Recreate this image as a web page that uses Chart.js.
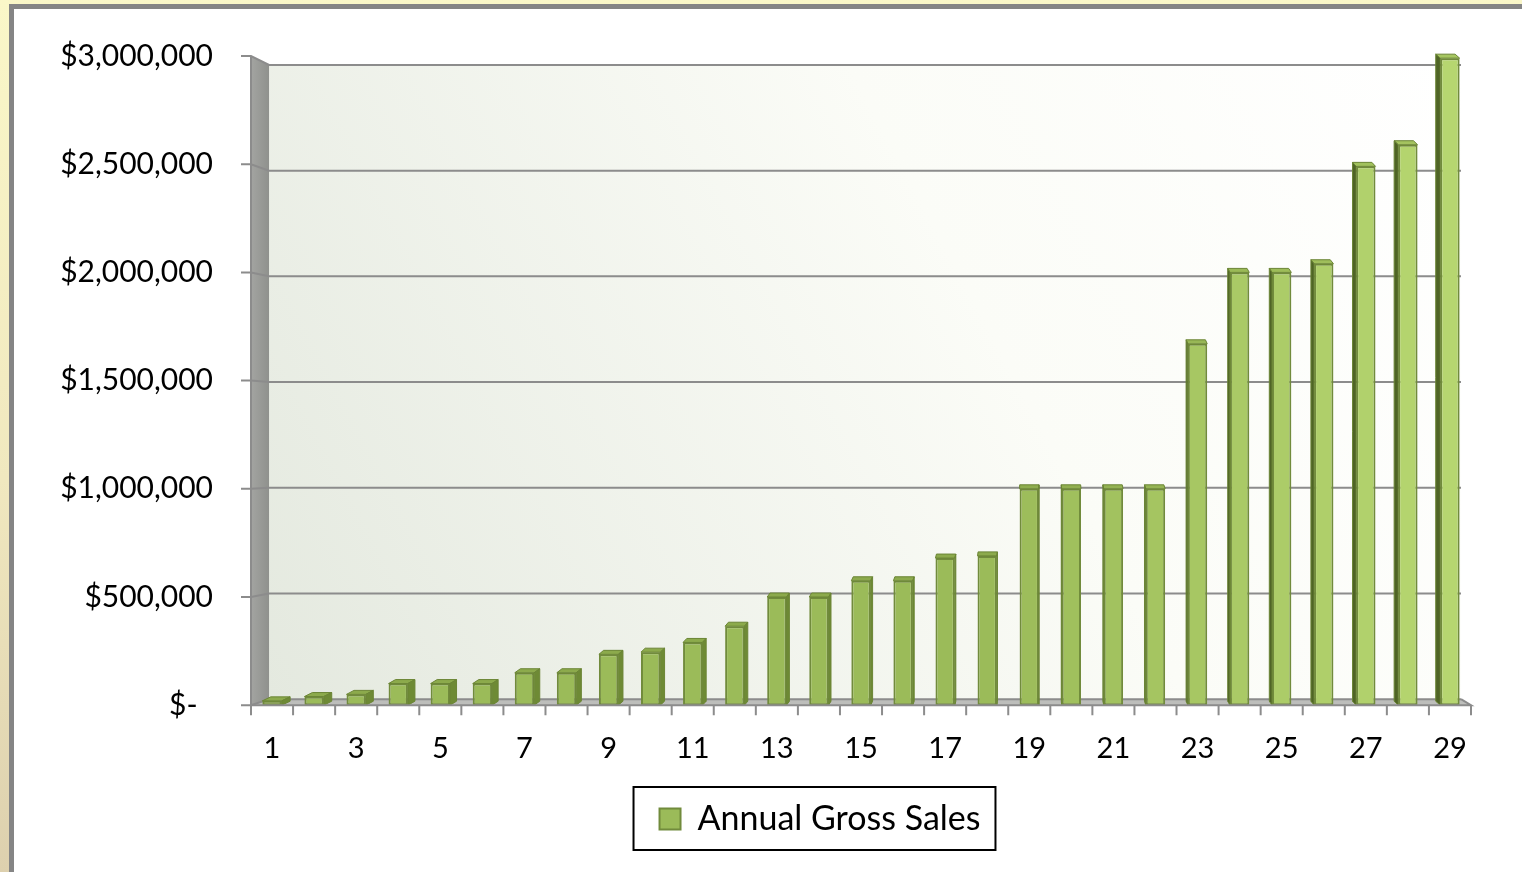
<!DOCTYPE html>
<html>
<head>
<meta charset="utf-8">
<title>Annual Gross Sales</title>
<script src="https://cdn.jsdelivr.net/npm/chart.js@4.4.1/dist/chart.umd.min.js"></script>
<style>
  html, body { margin: 0; padding: 0; }
  body {
    width: 1522px; height: 872px; overflow: hidden; position: relative;
    background: linear-gradient(180deg, #faf7c8 0%, #f0e8bf 55%, #ddd0ae 100%);
  }
  #frame {
    position: absolute; left: 9px; top: 4px; width: 1560px; height: 900px;
    background: #fff; border-left: 5px solid #858585; border-top: 5px solid #858585;
  }
  #salesChart { position: absolute; left: 0; top: 0; }
</style>
</head>
<body>
<div id="frame"></div>
<canvas id="salesChart" width="1522" height="872"></canvas>
<script>
// --- data ---
const years = ['1', '2', '3', '4', '5', '6', '7', '8', '9', '10', '11', '12', '13', '14', '15',
               '16', '17', '18', '19', '20', '21', '22', '23', '24', '25', '26', '27', '28', '29'];
const annualGrossSales = [20000, 40000, 50000, 100000, 100000, 100000, 150000, 150000, 235000, 245000,
                          290000, 365000, 500000, 500000, 575000, 575000, 680000, 690000, 1000000, 1000000,
                          1000000, 1000000, 1670000, 2000000, 2000000, 2040000, 2490000, 2590000, 2990000];
const yTicks = [0, 500000, 1000000, 1500000, 2000000, 2500000, 3000000];
const seriesName = 'Annual Gross Sales';

// --- fake Excel 3D look ---
const VP = { x: 1036, y: 444 };   // vanishing point
const WALL_DEPTH = 0.023;
const BAR_DEPTH = 0.011;
const LINE = '#8c8c8c';
const LEGEND_CENTER = 820;

const toBack = (px, py, k) => [px + (VP.x - px) * k, py + (VP.y - py) * k];

function mix(a, b, t) {
    const pa = a.match(/\w\w/g).map(h => parseInt(h, 16));
    const pb = b.match(/\w\w/g).map(h => parseInt(h, 16));
    return 'rgb(' + pa.map((v, i) => Math.round(v + (pb[i] - v) * t)).join(',') + ')';
}
const shade = (i) => Math.max(0, Math.min(1, (i - 17) / 11));
const faceColor = (i) => mix('9bbb59', 'b6d670', shade(i));

const excel3d = {
    id: 'excel3d',
    afterUpdate(chart) {
        // legend sits a bit left of the page centre in the original
        const lg = chart.legend;
        if (!lg) return;
        const shift = LEGEND_CENTER - (lg.left + lg.right) / 2;
        lg.left += shift;
        lg.right += shift;
        (lg.legendHitBoxes || []).forEach(h => { h.left += shift; });
    },
    beforeDatasetsDraw(chart) {
        const { ctx, chartArea: { left, right, top, bottom }, scales: { y } } = chart;
        const [tlx, tly] = toBack(left, top, WALL_DEPTH);
        const [brx, bry] = toBack(right, bottom, WALL_DEPTH);
        ctx.save();

        // back wall
        const g = ctx.createLinearGradient(tlx, bry, brx, tly);
        g.addColorStop(0, '#e4e9df');
        g.addColorStop(0.6, '#fbfcf7');
        g.addColorStop(1, '#ffffff');
        ctx.fillStyle = g;
        ctx.fillRect(tlx, tly, brx - tlx, bry - tly);

        // left side wall
        const sg = ctx.createLinearGradient(left, 0, tlx, 0);
        sg.addColorStop(0, '#a3a4a1');
        sg.addColorStop(1, '#8f918d');
        ctx.fillStyle = sg;
        ctx.beginPath();
        ctx.moveTo(left, top); ctx.lineTo(tlx, tly); ctx.lineTo(tlx, bry); ctx.lineTo(left, bottom);
        ctx.closePath(); ctx.fill();

        // floor
        ctx.fillStyle = '#bdbebb';
        ctx.beginPath();
        ctx.moveTo(left, bottom); ctx.lineTo(tlx, bry); ctx.lineTo(brx, bry); ctx.lineTo(right, bottom);
        ctx.closePath(); ctx.fill();

        // gridlines on the back wall + y tick marks
        ctx.strokeStyle = LINE;
        ctx.lineWidth = 2;
        yTicks.forEach(v => {
            const fy = y.getPixelForValue(v);
            const [bx, by] = toBack(left, fy, WALL_DEPTH);
            ctx.beginPath();
            ctx.moveTo(left - 10, fy); ctx.lineTo(left, fy); ctx.lineTo(bx, by); ctx.lineTo(brx, by);
            ctx.stroke();
        });

        // front edge of side wall
        ctx.beginPath();
        ctx.moveTo(left, top); ctx.lineTo(left, bottom);
        ctx.stroke();
        ctx.restore();
    },
    afterDatasetsDraw(chart) {
        const { ctx, chartArea: { left, right, bottom } } = chart;
        const meta = chart.getDatasetMeta(0);
        ctx.save();
        ctx.lineWidth = 1;
        meta.data.forEach((bar, i) => {
            const { x, y, width, base } = bar.getProps(['x', 'y', 'width', 'base'], true);
            const x0 = x - width / 2, x1 = x + width / 2;
            const dx = (VP.x - x) * BAR_DEPTH;
            const dy = 4;
            // top
            ctx.fillStyle = mix('8caa4c', 'a6c661', shade(i));
            ctx.strokeStyle = '#6b8535';
            ctx.beginPath();
            ctx.moveTo(x0, y); ctx.lineTo(x1, y); ctx.lineTo(x1 + dx, y - dy); ctx.lineTo(x0 + dx, y - dy);
            ctx.closePath(); ctx.fill(); ctx.stroke();
            // side
            const sx = dx > 0 ? x1 : x0;
            ctx.fillStyle = dx > 0 ? '#6e8a35' : '#4f6426';
            ctx.beginPath();
            ctx.moveTo(sx, y); ctx.lineTo(sx + dx, y - dy); ctx.lineTo(sx + dx, base - dy); ctx.lineTo(sx, base);
            ctx.closePath(); ctx.fill(); ctx.stroke();
        });

        // category axis with tick marks
        const [brx, bry] = toBack(right, bottom, WALL_DEPTH);
        ctx.strokeStyle = LINE;
        ctx.lineWidth = 2;
        ctx.beginPath();
        ctx.moveTo(left, bottom); ctx.lineTo(right, bottom); ctx.lineTo(brx, bry);
        const step = (right - left) / years.length;
        for (let i = 0; i <= years.length; i++) {
            ctx.moveTo(left + i * step, bottom); ctx.lineTo(left + i * step, bottom + 10);
        }
        ctx.stroke();
        ctx.restore();
    },
    afterDraw(chart) {
        const boxes = chart.legend && chart.legend.legendHitBoxes;
        if (!boxes || !boxes.length) return;
        const h = boxes[0];
        const { ctx } = chart;
        ctx.save();
        ctx.strokeStyle = '#000';
        ctx.lineWidth = 2;
        ctx.strokeRect(h.left - 26, h.top - 15, h.width + 41, h.height + 29);
        ctx.restore();
    }
};

const font = { family: 'Lato, "Open Sans", sans-serif', size: 29 };

new Chart(document.getElementById('salesChart'), {
    type: 'bar',
    data: {
        labels: years,
        datasets: [{
            label: seriesName,
            data: annualGrossSales,
            backgroundColor: (c) => faceColor(c.dataIndex || 0),
            borderColor: '#718b3c',
            borderWidth: 2,
            borderSkipped: false,
            barPercentage: 0.46,
            categoryPercentage: 1
        }]
    },
    options: {
        responsive: false,
        animation: false,
        devicePixelRatio: 1,
        layout: { padding: { top: 53, right: 51, left: 0, bottom: 26 } },
        plugins: {
            tooltip: { enabled: false },
            legend: {
                position: 'bottom',
                labels: {
                    color: '#000',
                    font: { family: font.family, size: 34 },
                    boxWidth: 21,
                    boxHeight: 21,
                    padding: 10
                }
            }
        },
        scales: {
            x: {
                grid: { display: false, drawTicks: false },
                border: { display: false },
                ticks: {
                    autoSkip: false,
                    maxRotation: 0,
                    padding: 26,
                    color: '#000',
                    font: font,
                    callback: (v, i) => (i % 2 === 0 ? years[i] : '')
                }
            },
            y: {
                min: 0,
                max: 3000000,
                afterBuildTicks: (s) => { s.ticks = yTicks.map(v => ({ value: v })); },
                afterFit: (s) => { s.width = 251; },
                grid: { display: false, drawTicks: false },
                border: { display: false },
                ticks: {
                    padding: 38,
                    color: '#000',
                    font: { family: font.family, size: 30 },
                    callback: (v) => (v === 0 ? '$-  ' : '$' + v.toLocaleString('en-US'))
                }
            }
        }
    },
    plugins: [excel3d]
});
</script>
</body>
</html>
